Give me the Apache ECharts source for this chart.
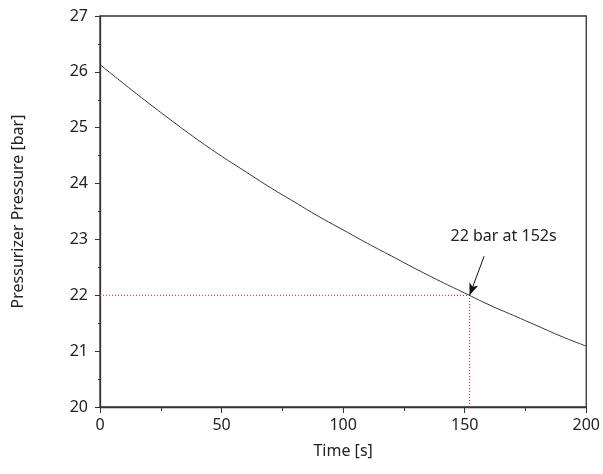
<!DOCTYPE html>
<html><head><meta charset="utf-8">
<script src="https://cdn.jsdelivr.net/npm/echarts@6/dist/echarts.min.js"></script>
<style>html,body{margin:0;padding:0;background:#fff}#c{width:603px;height:474px}</style>
</head><body><div id="c"></div>
<script>
var times = [0, 10, 20, 30, 40, 50, 60, 70, 80, 90, 100, 110, 120, 130, 140, 150, 160, 170, 180, 190, 200];
var pressure = [26.13, 25.78, 25.44, 25.11, 24.79, 24.49, 24.21, 23.93, 23.67, 23.41, 23.17, 22.93, 22.70, 22.47, 22.25, 22.04, 21.83, 21.64, 21.45, 21.26, 21.09];
var markTime = 152;
var markPressure = 22;
var arrowTail = [158, 22.7];
var labelPos = [166, 23.05];
var labelText = '22 bar at 152s';

var FONT = 'Noto Sans';
var chart = echarts.init(document.getElementById('c'));
var pts = times.map(function (t, i) { return [t, pressure[i]]; });
var dotted = { color: '#e8384f', type: [1, 2], width: 1.2, opacity: 1 };
chart.setOption({
  animation: false,
  grid: { left: 100, right: 16, top: 16, bottom: 67, show: true, borderColor: '#333', borderWidth: 1.3, backgroundColor: 'transparent' },
  xAxis: {
    type: 'value', min: 0, max: 200, interval: 50,
    name: 'Time [s]', nameLocation: 'middle', nameGap: 36,
    nameTextStyle: { fontFamily: FONT, fontSize: 16, color: '#222' },
    axisLine: { show: true, lineStyle: { color: '#333', width: 1.3 } },
    axisTick: { show: true, inside: false, length: 6, lineStyle: { color: '#333' } },
    minorTick: { show: true, splitNumber: 2, length: 4, lineStyle: { color: '#333' } },
    splitLine: { show: false },
    axisLabel: { fontFamily: FONT, fontSize: 16, color: '#222', margin: 10 }
  },
  yAxis: {
    type: 'value', min: 20, max: 27, interval: 1,
    name: 'Pressurizer Pressure [bar]', nameLocation: 'middle', nameGap: 74,
    nameTextStyle: { fontFamily: FONT, fontSize: 16, color: '#222' },
    axisLine: { show: true, lineStyle: { color: '#333', width: 1.3 } },
    axisTick: { show: true, inside: false, length: 5, lineStyle: { color: '#333' } },
    minorTick: { show: true, splitNumber: 2, length: 2, lineStyle: { color: '#333' } },
    splitLine: { show: false },
    axisLabel: { fontFamily: FONT, fontSize: 16, color: '#222', margin: 12 }
  },
  series: [{
    type: 'line', data: [[0, markPressure], [markTime, markPressure]], showSymbol: false, silent: true,
    lineStyle: dotted, z: 1
  }, {
    type: 'line', data: [[markTime, 20], [markTime, markPressure]], showSymbol: false, silent: true,
    lineStyle: dotted, z: 1
  }, {
    type: 'line', data: pts, smooth: true, showSymbol: false, z: 3,
    lineStyle: { color: '#333', width: 1 },
    markLine: {
      silent: true, animation: false,
      lineStyle: { color: '#111', type: 'solid', width: 1 },
      data: [
        [{ coord: arrowTail, symbol: 'none' },
         { coord: [markTime, markPressure], symbol: 'arrow', symbolSize: [7, 12] }]
      ],
      label: { show: false }
    },
    markPoint: {
      silent: true,
      data: [{ coord: labelPos, symbol: 'circle', symbolSize: 0,
        label: { show: true, position: 'inside', formatter: labelText, fontFamily: FONT, fontSize: 16, color: '#222' } }]
    }
  }]
});
</script></body></html>
